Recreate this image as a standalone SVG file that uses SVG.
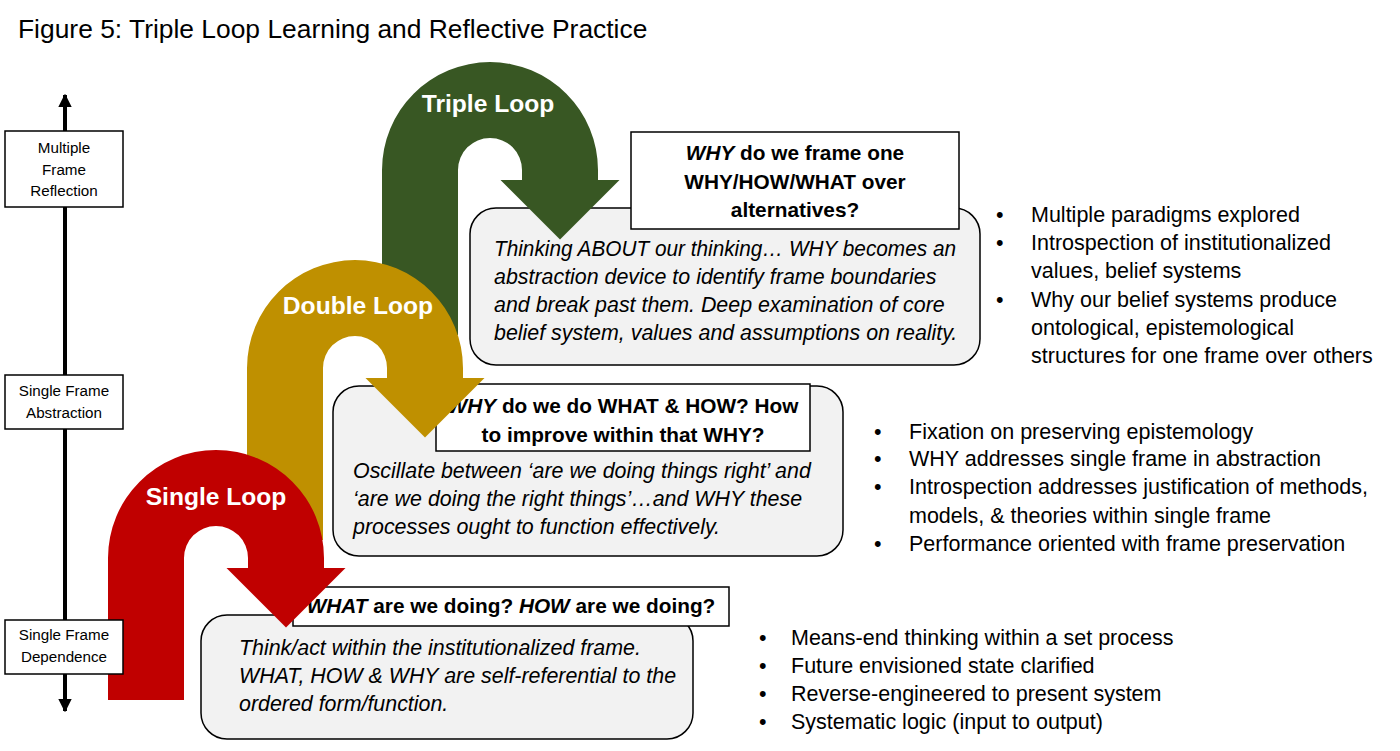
<svg xmlns="http://www.w3.org/2000/svg" width="1400" height="751" viewBox="0 0 1400 751">
<defs>
<style>
.t{font-family:"Liberation Sans",Arial,sans-serif;fill:#000}
.title{font-size:26.4px}
.ax{font-size:15.2px;text-anchor:middle}
.axbox{fill:#fff;stroke:#000;stroke-width:1.5}
.gray{fill:#f2f2f2;stroke:#000;stroke-width:1.5}
.head{fill:#fff;stroke:#000;stroke-width:1.5}
.it{font-size:21.4px;font-style:italic}
.hd{font-size:20.8px;font-weight:bold;text-anchor:middle}
.bl{font-size:21.5px}
.lbl{font-family:"Liberation Sans",Arial,sans-serif;font-size:24.6px;font-weight:bold;fill:#fff;text-anchor:middle}
</style>
<marker id="ah" viewBox="0 0 10 10" refX="9" refY="5" markerWidth="3.4" markerHeight="3.4" orient="auto-start-reverse">
<path d="M0,0 L10,5 L0,10 Z" fill="#000"/>
</marker>
</defs>
<rect width="1400" height="751" fill="#fff"/>
<text class="t title" x="18" y="38">Figure 5: Triple Loop Learning and Reflective Practice</text>

<g id="connectors">
<line x1="65" y1="95" x2="65" y2="711" stroke="#000" stroke-width="4" marker-start="url(#ah)" marker-end="url(#ah)"/>
</g>

<g id="triple-box">
<rect class="gray" x="470" y="208" width="510" height="157" rx="26"/>
<text class="t it" x="494" y="256" textLength="462" lengthAdjust="spacingAndGlyphs">Thinking ABOUT our thinking… WHY becomes an</text>
<text class="t it" x="494" y="284">abstraction device to identify frame boundaries</text>
<text class="t it" x="494" y="312">and break past them. Deep examination of core</text>
<text class="t it" x="494" y="340">belief system, values and assumptions on reality.</text>
<rect class="head" x="631" y="132" width="328" height="97"/>
<text class="t hd" x="795" y="160"><tspan font-style="italic">WHY</tspan> do we frame one</text>
<text class="t hd" x="795" y="189">WHY/HOW/WHAT over</text>
<text class="t hd" x="795" y="217">alternatives?</text>
</g>

<g id="double-box">
<rect class="gray" x="333" y="386" width="510" height="170" rx="26"/>
<text class="t it" x="353" y="478">Oscillate between ‘are we doing things right’ and</text>
<text class="t it" x="353" y="506">‘are we doing the right things’…and WHY these</text>
<text class="t it" x="353" y="534">processes ought to function effectively.</text>
<rect class="head" x="436" y="384" width="374" height="67"/>
<text class="t hd" x="623" y="413"><tspan font-style="italic">WHY</tspan> do we do WHAT &amp; HOW? How</text>
<text class="t hd" x="623" y="442">to improve within that WHY?</text>
</g>

<g id="single-box">
<rect class="gray" x="201" y="615" width="492" height="124" rx="26"/>
<text class="t it" x="239" y="655">Think/act within the institutionalized frame.</text>
<text class="t it" x="239" y="683">WHAT, HOW &amp; WHY are self-referential to the</text>
<text class="t it" x="239" y="711">ordered form/function.</text>
<rect class="head" x="293" y="587" width="436" height="39"/>
<text class="t hd" x="511" y="613"><tspan font-style="italic">WHAT</tspan> are we doing? <tspan font-style="italic">HOW</tspan> are we doing?</text>
</g>

<g id="triple-loop">
<path fill="#385723" d="M382,335 L382,170 A108,108 0 0 1 598,170 L598,180 L619.5,180 L560,239.5 L500.5,180 L522,180 L522,170 A32,32 0 0 0 458,170 L458,335 Z"/>
<text class="lbl" x="488" y="112">Triple Loop</text>
</g>
<g id="double-loop">
<path fill="#bf9000" d="M247,540 L247,368 A108,108 0 0 1 463,368 L463,378 L484.5,378 L425,437.5 L365.5,378 L387,378 L387,368 A32,32 0 0 0 323,368 L323,540 Z"/>
<text class="lbl" x="358" y="314">Double Loop</text>
</g>
<g id="single-loop">
<path fill="#c00000" d="M108,700 L108,558 A108,108 0 0 1 324,558 L324,568 L345.5,568 L286,627.5 L226.5,568 L248,568 L248,558 A32,32 0 0 0 184,558 L184,700 Z"/>
<text class="lbl" x="216" y="505">Single Loop</text>
</g>

<g id="axis-multiple">
<rect class="axbox" x="5" y="131" width="118" height="76"/>
<text class="t ax" x="64" y="153">Multiple</text>
<text class="t ax" x="64" y="175">Frame</text>
<text class="t ax" x="64" y="196">Reflection</text>
</g>
<g id="axis-abstraction">
<rect class="axbox" x="5" y="375" width="118" height="54"/>
<text class="t ax" x="64" y="396">Single Frame</text>
<text class="t ax" x="64" y="418">Abstraction</text>
</g>
<g id="axis-dependence">
<rect class="axbox" x="5" y="620" width="118" height="54"/>
<text class="t ax" x="64" y="640">Single Frame</text>
<text class="t ax" x="64" y="662">Dependence</text>
</g>

<g id="triple-bullets">
<text class="t bl" x="996" y="222">•</text><text class="t bl" x="1031" y="222">Multiple paradigms explored</text>
<text class="t bl" x="996" y="250">•</text><text class="t bl" x="1031" y="250">Introspection of institutionalized</text>
<text class="t bl" x="1031" y="278">values, belief systems</text>
<text class="t bl" x="996" y="307">•</text><text class="t bl" x="1031" y="307">Why our belief systems produce</text>
<text class="t bl" x="1031" y="335">ontological, epistemological</text>
<text class="t bl" x="1031" y="363">structures for one frame over others</text>
</g>
<g id="double-bullets">
<text class="t bl" x="874" y="439">•</text><text class="t bl" x="909" y="439">Fixation on preserving epistemology</text>
<text class="t bl" x="874" y="466">•</text><text class="t bl" x="909" y="466">WHY addresses single frame in abstraction</text>
<text class="t bl" x="874" y="494">•</text><text class="t bl" x="909" y="494">Introspection addresses justification of methods,</text>
<text class="t bl" x="909" y="523">models, &amp; theories within single frame</text>
<text class="t bl" x="874" y="551">•</text><text class="t bl" x="909" y="551">Performance oriented with frame preservation</text>
</g>
<g id="single-bullets">
<text class="t bl" x="759" y="645">•</text><text class="t bl" x="791" y="645">Means-end thinking within a set process</text>
<text class="t bl" x="759" y="673">•</text><text class="t bl" x="791" y="673">Future envisioned state clarified</text>
<text class="t bl" x="759" y="701">•</text><text class="t bl" x="791" y="701">Reverse-engineered to present system</text>
<text class="t bl" x="759" y="729">•</text><text class="t bl" x="791" y="729">Systematic logic (input to output)</text>
</g>
</svg>
